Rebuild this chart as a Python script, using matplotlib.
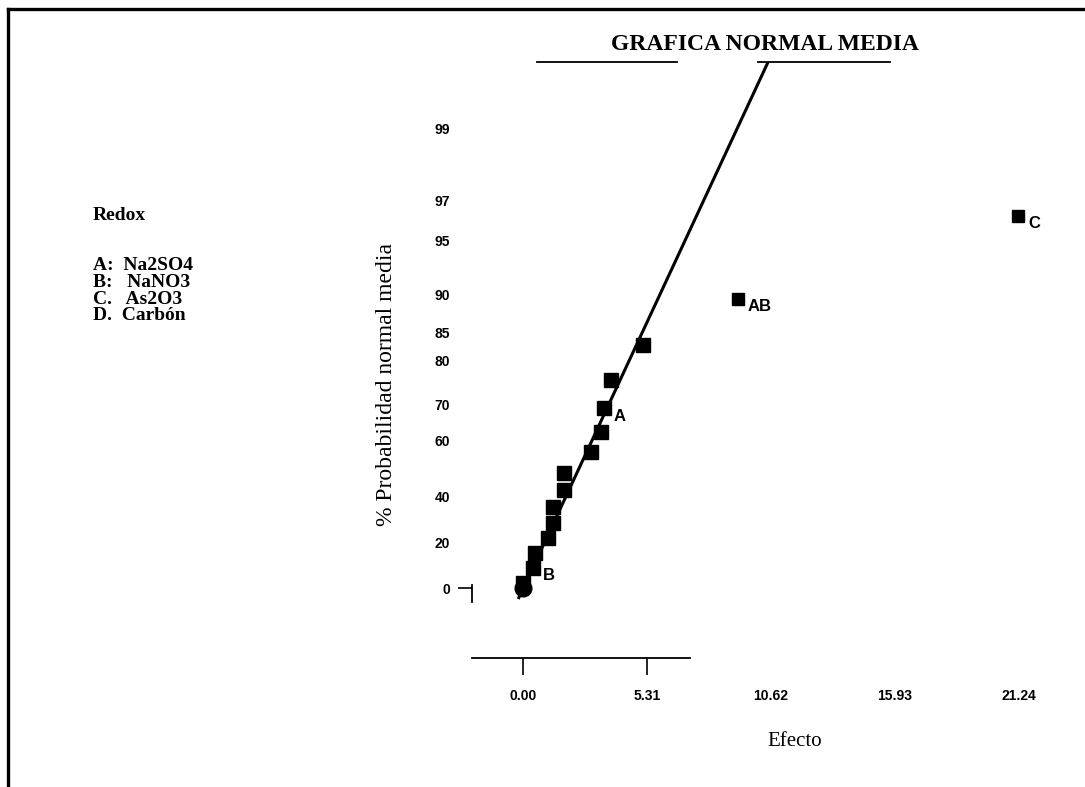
#!/usr/bin/env python3
# -*- coding: utf-8 -*-

import numpy as np
import matplotlib
matplotlib.use("Agg")
import matplotlib.pyplot as plt
from matplotlib.lines import Line2D

# ========= DATA =========
# effects plotted as squares (estimated from the scanned chart)
EFFECT = [0.02, 0.43, 0.51, 1.07, 1.28, 1.28, 1.76, 1.76, 2.91, 3.34, 3.47, 3.77, 5.14]
PROB = [2.2, 8.9, 15.6, 22.2, 28.7, 35.7, 42.5, 48.4, 55.8, 62.3, 69.1, 75.6, 82.7]

# the two large effects, drawn a bit smaller
BIG_EFFECT = [9.21, 21.2]
BIG_PROB = [89.5, 96.2]

# point at the origin (circle)
ORIGIN_EFFECT = [0.0]
ORIGIN_PROB = [0.0]

# labelled effects
LABEL_TEXT = ["B", "A", "AB", "C"]
LABEL_EFFECT = [0.43, 3.47, 9.21, 21.2]
LABEL_PROB = [8.9, 69.1, 89.5, 96.2]

# fitted normal line (two end points)
FIT_EFFECT = [-0.2, 10.5]
FIT_PROB = [-5.0, 99.9]

X_TICKS = [0.0, 5.31, 10.62, 15.93, 21.24]
X_TICK_LABELS = ["0.00", "5.31", "10.62", "15.93", "21.24"]
Y_TICKS = [0, 20, 40, 60, 70, 80, 85, 90, 95, 97, 99]
Y_TICK_LABELS = ["0", "20", "40", "60", "70", "80", "85", "90", "95", "97", "99"]

LEGEND_TITLE = "Redox"
LEGEND_LINES = ["A:  Na2SO4", "B:   NaNO3", "C.   As2O3", "D.  Carbón"]

# ========= PROBABILITY SCALE =========
# irregular normal-probability axis of the printed chart (prob -> height)
SCALE_PROB = [-40, -10, 0, 20, 40, 60, 70, 80, 85, 90, 95, 97, 99, 99.9]
SCALE_H = [-90, -22, 0, 45, 91, 148, 183, 228, 256, 293, 348, 388, 460, 526]


def prob_fwd(p):
    return np.interp(p, SCALE_PROB, SCALE_H)


def prob_inv(h):
    return np.interp(h, SCALE_H, SCALE_PROB)


W, H = 1085, 787
SERIF = "Liberation Serif"
SANS = "Liberation Sans"

fig = plt.figure(figsize=(W / 100, H / 100), dpi=100)
fig.patch.set_facecolor("white")

# axes box in pixels (left, right, bottom, top measured from the top)
left_px, right_px, bot_px, top_px = 472, 1060, 658, 62
ax = fig.add_axes([left_px / W, 1 - bot_px / H,
                   (right_px - left_px) / W, (bot_px - top_px) / H])

ax.set_yscale("function", functions=(prob_fwd, prob_inv))
ax.set_xlim(-2.18, 23.0)
ax.set_ylim(prob_inv(-70), 99.9)

# fitted line
ax.plot(FIT_EFFECT, FIT_PROB, color="black", lw=2.2, solid_capstyle="butt", zorder=2)

# points
ax.plot(EFFECT, PROB, "s", color="black", ms=10, zorder=3)
ax.plot(BIG_EFFECT, BIG_PROB, "s", color="black", ms=9, zorder=3)
ax.plot(ORIGIN_EFFECT, ORIGIN_PROB, "o", color="black", ms=12, zorder=3)

for txt, x, y in zip(LABEL_TEXT, LABEL_EFFECT, LABEL_PROB):
    ax.annotate(txt, (x, y), xytext=(10, -8), textcoords="offset pixels",
                ha="left", va="center", fontsize=12, fontweight="bold",
                family=SANS)

# ========= AXES STYLE =========
ax.spines["right"].set_visible(False)
ax.spines["bottom"].set_bounds(-2.18, 7.15)
ax.spines["left"].set_bounds(-6.4, 1.3)
ax.spines["top"].set_bounds(0.6, 6.6)
for side in ["bottom", "left", "top"]:
    ax.spines[side].set_linewidth(1.3)
# second piece of the top line
ax.plot([10.06, 15.7], [1, 1], color="black", lw=1.3,
        transform=ax.get_xaxis_transform(), clip_on=False)

ax.set_xticks(X_TICKS)
ax.set_xticklabels(X_TICK_LABELS)
ax.set_yticks(Y_TICKS)
ax.set_yticklabels(Y_TICK_LABELS)
ax.minorticks_off()
ax.tick_params(axis="x", length=12, width=1.2, pad=10, labelsize=10)
ax.tick_params(axis="y", length=10, width=1.2, pad=6, labelsize=10)
for t in ax.xaxis.get_major_ticks()[2:]:
    t.tick1line.set_visible(False)
for t in ax.yaxis.get_major_ticks()[1:]:
    t.tick1line.set_visible(False)
for lab in ax.get_xticklabels() + ax.get_yticklabels():
    lab.set_family(SANS)
    lab.set_fontweight("bold")

# ========= TEXTS =========
fig.text(765 / W, 1 - 44 / H, "GRAFICA NORMAL MEDIA", ha="center", va="center",
         fontsize=17, fontweight="bold", family=SERIF)
fig.text(386 / W, 1 - 385 / H, "% Probabilidad normal media", rotation=90,
         ha="center", va="center", fontsize=17, family=SERIF)
fig.text(795 / W, 1 - 742 / H, "Efecto", ha="center", va="center",
         fontsize=15, family=SERIF)

fig.text(93 / W, 1 - 216 / H, LEGEND_TITLE, ha="left", va="center",
         fontsize=14, fontweight="bold", family=SERIF)
for i, line in enumerate(LEGEND_LINES):
    fig.text(93 / W, 1 - (266 + 16.5 * i) / H, line, ha="left", va="center",
             fontsize=14, fontweight="bold", family=SERIF)

# page frame of the scanned sheet
fig.add_artist(Line2D([8 / W, 1], [1 - 9 / H, 1 - 9 / H], color="black", lw=2.4))
fig.add_artist(Line2D([8 / W, 8 / W], [0, 1 - 9 / H], color="black", lw=2.4))

fig.savefig("out.png", dpi=100)
